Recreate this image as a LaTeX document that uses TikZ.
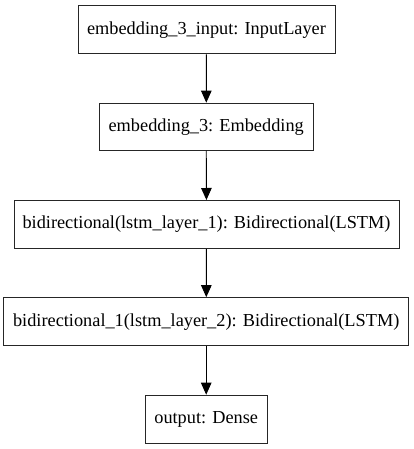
\documentclass[tikz,border=0pt]{standalone}
\usepackage{fontspec}
\setmainfont{Liberation Serif}
\usetikzlibrary{arrows.meta}
\begin{document}
\begin{tikzpicture}[x=1pt,y=-1pt,
  layer/.style={draw=black!85,line width=1pt,fill=white,inner sep=0pt,font=\fontsize{18.3}{21}\selectfont},
  conn/.style={line width=0.9pt,-{Triangle[length=12pt,width=10.5pt]}}]
\useasboundingbox (0,0) rectangle (413,449);
\node[layer,minimum width=257pt,minimum height=48pt] (a) at (206.5,29.8) {embedding\_3\_input: InputLayer};
\node[layer,minimum width=214pt,minimum height=47pt] (b) at (206.2,126.7) {embedding\_3: Embedding};
\node[layer,minimum width=385pt,minimum height=48pt] (c) at (206.5,224.5) {bidirectional(lstm\_layer\_1): Bidirectional(LSTM)};
\node[layer,minimum width=405pt,minimum height=48pt] (d) at (206.2,321.7) {bidirectional\_1(lstm\_layer\_2): Bidirectional(LSTM)};
\node[layer,minimum width=122pt,minimum height=48pt] (e) at (206.2,419.2) {output: Dense};
\draw[conn] (a) -- (b);
\draw[conn] (b) -- (c);
\draw[conn] (c) -- (d);
\draw[conn] (d) -- (e);
\end{tikzpicture}
\end{document}
